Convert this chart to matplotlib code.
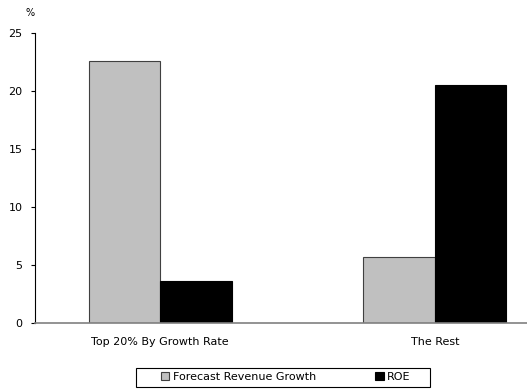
import matplotlib
matplotlib.use("Agg")
import matplotlib.pyplot as plt
from matplotlib.patches import Rectangle
import numpy as np

categories = ["Top 20% By Growth Rate", "The Rest"]
revenue_growth = [22.6, 5.7]
roe = [3.6, 20.5]
series_names = ["Forecast Revenue Growth", "ROE"]

fig = plt.figure(figsize=(5.27, 3.89), dpi=100)
ax = fig.add_axes([35 / 527, 1 - 323 / 389, 1 - 35 / 527, 290 / 389])

x = np.arange(len(categories))
w = 0.26
ax.bar(x - w / 2, revenue_growth, w, color="#c0c0c0", edgecolor="#404040", linewidth=0.8, label=series_names[0])
ax.bar(x + w / 2, roe, w, color="black", edgecolor="black", linewidth=0.8, label=series_names[1])

ax.set_xlim(-0.455, 1.335)
ax.set_ylim(0, 25)
ax.set_yticks([0, 5, 10, 15, 20, 25])
ax.set_xticks(x)
ax.set_xticklabels(categories, fontsize=8)
ax.tick_params(axis="x", length=0, pad=10)
ax.tick_params(axis="y", labelsize=8, length=3, width=0.8, direction="out", pad=6)
for s in ["top", "right"]:
    ax.spines[s].set_visible(False)
ax.spines["left"].set_linewidth(0.8)
ax.spines["bottom"].set_color("#808080")
ax.spines["bottom"].set_linewidth(1.2)

fig.text(30 / 527, 1 - 13 / 389, "%", fontsize=7, ha="center", va="center")

# legend box drawn by hand so its padding matches
fig.patches.append(Rectangle((136 / 527, 1 - 387 / 389), 294 / 527, 19 / 389,
                             transform=fig.transFigure, fill=False, edgecolor="black", linewidth=0.8))
fig.legend(loc="center left", bbox_to_anchor=(155 / 527, 1 - 377 / 389), ncol=2, fontsize=8,
           frameon=False, handlelength=0.8, handleheight=0.8,
           handletextpad=0.3, columnspacing=5.3, borderpad=0)

fig.savefig("out.png", dpi=100)
